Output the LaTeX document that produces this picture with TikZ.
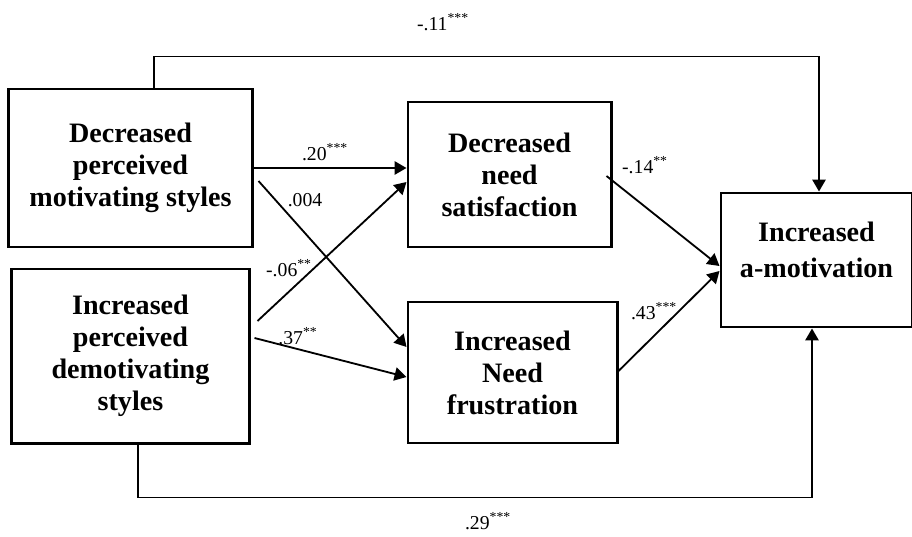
\documentclass[tikz,border=0pt]{standalone}
\usepackage{fontspec}
\setmainfont{Liberation Serif}
\usetikzlibrary{arrows.meta}

\tikzset{
  varbox/.style={draw,line width=2.1pt,align=center,inner sep=0pt,
    font=\bfseries\fontsize{20}{22.7}\selectfont},
  conn/.style={line width=1.3pt},
  arr/.style={conn,-{Triangle[length=8.5pt,width=9.5pt]}},
  coef/.style={inner sep=0pt,font=\fontsize{14}{16}\selectfont},
}

\begin{document}
\begin{tikzpicture}[x=0.025cm,y=-0.025cm]
  \useasboundingbox (0,0) rectangle (912,537);
  % boxes
  \node[varbox,minimum width=6.075cm,minimum height=3.95cm] (dms) at (130.5,168)
    {Decreased\\perceived\\motivating styles};
  \node[varbox,minimum width=5.925cm,minimum height=4.35cm] (ids) at (130.5,356)
    {Increased\\perceived\\demotivating\\styles};
  \node[varbox,minimum width=5.075cm,minimum height=3.625cm] (dns) at (509.5,174.5)
    {Decreased\\need\\satisfaction};
  \node[varbox,minimum width=5.225cm,minimum height=3.525cm] (inf) at (512.5,372.5)
    {Increased\\Need\\frustration};
  \node[varbox,minimum width=4.775cm,minimum height=3.35cm,text depth=0.5cm] (iam) at (816.5,260)
    {Increased\\[3pt]a-motivation};
  % paths
  \draw[arr] (dms.east) -- (dms.east -| dns.west);
  \draw[arr] ([shift={(5,13)}]dms.east) -- ([shift={(0,-25.5)}]inf.west);
  \draw[arr] ([shift={(7,-35)}]ids.east) -- ([shift={(0,7.5)}]dns.west);
  \draw[arr] ([shift={(4,-18)}]ids.east) -- ([shift={(0,4.5)}]inf.west);
  \draw[arr] ([shift={(-6,1.5)}]dns.east) -- ([shift={(0,6)}]iam.west);
  \draw[arr] ([shift={(0,-1.5)}]inf.east) -- ([shift={(0,11)}]iam.west);
  \draw[arr] ([shift={(23.5,0)}]dms.north) -- ++(0,-31) -| ([shift={(2.5,0)}]iam.north);
  \draw[arr] ([shift={(7.5,0)}]ids.south) -- ++(0,53) -| ([shift={(-4.5,0)}]iam.south);
  % coefficients
  \node[coef] (c11) at (443,22) {-.11\textsuperscript{***}};
  \node[coef] (c20) at (325,152) {.20\textsuperscript{***}};
  \node[coef] (c004) at (305,200) {.004};
  \node[coef] (c06) at (289,268) {-.06\textsuperscript{**}};
  \node[coef] (c37) at (298,336) {.37\textsuperscript{**}};
  \node[coef] (c14) at (645,165) {-.14\textsuperscript{**}};
  \node[coef] (c43) at (654,311) {.43\textsuperscript{***}};
  \node[coef] (c29) at (488,521) {.29\textsuperscript{***}};
\end{tikzpicture}
\end{document}
